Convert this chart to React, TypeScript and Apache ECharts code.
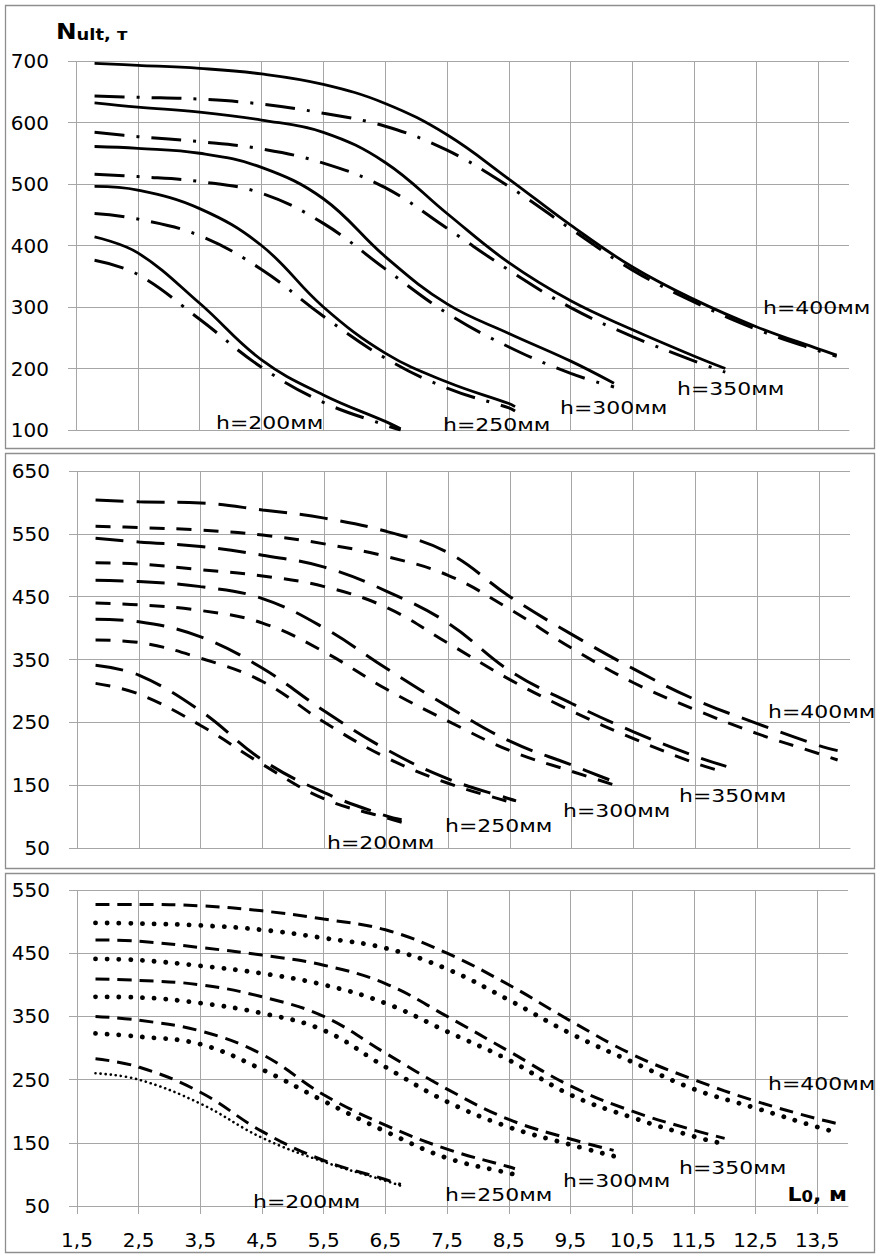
import React, { useEffect, useRef } from "react";
import * as echarts from "echarts";

// ---------- data ----------
const X_TICKS = [1.5, 2.5, 3.5, 4.5, 5.5, 6.5, 7.5, 8.5, 9.5, 10.5, 11.5, 12.5, 13.5];

const X_200 = [1.8, 2.5, 3.5, 4.5, 5.5, 6.5, 6.75];
const X_250 = [1.8, 2.5, 3.5, 4.5, 5.5, 6.5, 7.5, 8.5, 8.6];
const X_300 = [1.8, 2.5, 3.5, 4.5, 5.5, 6.5, 7.5, 8.5, 9.5, 10.2];
const X_350 = [1.8, 2.5, 3.5, 4.5, 5.5, 6.5, 7.5, 8.5, 9.5, 10.5, 11.5, 12.0];
const X_400 = [1.8, 2.5, 3.5, 4.5, 5.5, 6.5, 7.5, 8.5, 9.5, 10.5, 11.5, 12.5, 13.5, 13.8];

// panel 1: solid vs dash-dot
const P1_SOLID_400 = [696, 693, 688, 679, 662, 631, 580, 508, 433, 365, 312, 268, 232, 222];
const P1_DD_400 = [643, 641, 638, 630, 615, 594, 555, 496, 427, 360, 308, 264, 229, 220];
const P1_SOLID_350 = [632, 625, 617, 604, 584, 535, 452, 372, 310, 263, 220, 200];
const P1_DD_350 = [584, 577, 569, 557, 534, 494, 428, 360, 299, 252, 212, 194];
const P1_SOLID_300 = [561, 558, 550, 527, 476, 382, 305, 257, 212, 176];
const P1_DD_300 = [516, 512, 504, 485, 436, 362, 290, 235, 192, 170];
const P1_SOLID_250 = [496, 490, 460, 400, 300, 225, 178, 143, 138];
const P1_DD_250 = [452, 443, 416, 361, 285, 217, 168, 136, 131];
const P1_SOLID_200 = [414, 388, 306, 214, 157, 114, 102];
const P1_DD_200 = [376, 353, 280, 202, 145, 108, 100];

// panel 2: long dash vs short dash
const P2_LONG_400 = [604, 601, 599, 588, 575, 554, 520, 450, 390, 335, 286, 248, 213, 205];
const P2_SHORT_400 = [562, 560, 556, 548, 534, 514, 484, 430, 368, 313, 270, 232, 200, 190];
const P2_LONG_350 = [543, 537, 530, 516, 497, 459, 408, 332, 280, 235, 196, 180];
const P2_SHORT_350 = [504, 502, 493, 483, 466, 433, 376, 318, 268, 224, 185, 170];
const P2_LONG_300 = [476, 474, 466, 447, 400, 336, 275, 220, 182, 155];
const P2_SHORT_300 = [440, 437, 428, 408, 362, 303, 252, 205, 172, 150];
const P2_LONG_250 = [414, 410, 386, 336, 268, 207, 160, 128, 125];
const P2_SHORT_250 = [381, 377, 352, 315, 250, 194, 153, 123, 119];
const P2_LONG_200 = [341, 325, 268, 190, 138, 101, 95];
const P2_SHORT_200 = [312, 295, 245, 183, 128, 98, 91];

// panel 3: dashed vs dotted
const P3_DASH_400 = [527, 527, 525, 517, 504, 487, 450, 400, 343, 290, 250, 216, 188, 181];
const P3_DOT_400 = [498, 497, 494, 487, 474, 458, 425, 376, 323, 278, 235, 205, 175, 167];
const P3_DASH_350 = [471, 469, 459, 447, 431, 402, 350, 295, 240, 200, 170, 157];
const P3_DOT_350 = [441, 439, 430, 418, 400, 371, 326, 281, 226, 190, 160, 148];
const P3_DASH_300 = [409, 407, 400, 381, 350, 292, 235, 187, 156, 138];
const P3_DOT_300 = [381, 380, 371, 355, 328, 270, 215, 175, 147, 129];
const P3_DASH_250 = [350, 344, 327, 290, 226, 178, 140, 112, 109];
const P3_DOT_250 = [323, 318, 306, 266, 216, 168, 126, 102, 100];
const P3_DASH_200 = [283, 270, 230, 168, 122, 92, 84];
const P3_DOT_200 = [260, 250, 212, 158, 120, 90, 82];

const H_LABELS = ["h=200мм", "h=250мм", "h=300мм", "h=350мм", "h=400мм"];
const Y_TITLE = ["N", "ult, т"];
const X_TITLE = ["L", "0", ", м"];

// ---------- styles ----------
const FONT = "DejaVu Sans";
const GRID_COLOR = "#a6a6a6";
const BORDER_COLOR = "#8e8e8e";

const STYLE_SOLID = { width: 2.8, type: "solid" };
const STYLE_DASHDOT = { width: 3, type: [30, 12, 3, 12], cap: "butt" };
const STYLE_LONG = { width: 3, type: [28, 13], cap: "butt" };
const STYLE_SHORT = { width: 3, type: [15, 12], cap: "butt" };
const STYLE_DASH = { width: 3, type: [14, 8], cap: "butt" };
const STYLE_DOT = { width: 4.8, type: [0.1, 11.6], cap: "round" };
const STYLE_FINEDOT = { width: 2.6, type: [0.1, 5], cap: "round" };

function line(name: string, xs: number[], ys: number[], grid: number, st: any) {
  return {
    name,
    type: "line",
    xAxisIndex: grid,
    yAxisIndex: grid,
    data: xs.map((x, i) => [x, ys[i]]),
    symbol: "none",
    showSymbol: false,
    smooth: 0.4,
    silent: true,
    lineStyle: { color: "#000", width: st.width, type: st.type, cap: st.cap || "butt" },
    z: 5,
  };
}

function xAxisFor(i: number, showLabels: boolean) {
  return {
    type: "value",
    gridIndex: i,
    min: 1.5,
    max: 14,
    interval: 1,
    axisLine: { show: true, lineStyle: { color: GRID_COLOR, width: 1 } },
    axisTick: {
      show: showLabels,
      length: 8,
      customValues: X_TICKS,
      lineStyle: { color: GRID_COLOR, width: 1 },
    },
    axisLabel: {
      show: showLabels,
      customValues: X_TICKS,
      formatter: (v: number) => v.toFixed(1).replace(".", ","),
      fontFamily: FONT,
      fontSize: 20,
      color: "#000",
      margin: 24,
    },
    splitLine: { show: true, lineStyle: { color: GRID_COLOR, width: 1 } },
  };
}

function yAxisFor(i: number, min: number, max: number) {
  return {
    type: "value",
    gridIndex: i,
    min,
    max,
    interval: 100,
    axisLine: { show: false },
    axisTick: { show: true, length: 8, lineStyle: { color: GRID_COLOR, width: 1 } },
    axisLabel: { fontFamily: FONT, fontSize: 20, color: "#000", margin: 27 },
    splitLine: { show: true, lineStyle: { color: GRID_COLOR, width: 1 } },
  };
}

// label layout (pixel positions of the h= labels in each panel)
const LABEL_POS = [
  [[216, 423], [443, 425], [560, 408], [677, 389], [763, 308]],
  [[327, 843], [445, 826], [563, 811], [679, 796], [768, 712]],
  [[253, 1202], [445, 1195], [563, 1181], [679, 1168], [768, 1084]],
];

function buildOption() {
  const series = [
    line("p1s400", X_400, P1_SOLID_400, 0, STYLE_SOLID),
    line("p1d400", X_400, P1_DD_400, 0, STYLE_DASHDOT),
    line("p1s350", X_350, P1_SOLID_350, 0, STYLE_SOLID),
    line("p1d350", X_350, P1_DD_350, 0, STYLE_DASHDOT),
    line("p1s300", X_300, P1_SOLID_300, 0, STYLE_SOLID),
    line("p1d300", X_300, P1_DD_300, 0, STYLE_DASHDOT),
    line("p1s250", X_250, P1_SOLID_250, 0, STYLE_SOLID),
    line("p1d250", X_250, P1_DD_250, 0, STYLE_DASHDOT),
    line("p1s200", X_200, P1_SOLID_200, 0, STYLE_SOLID),
    line("p1d200", X_200, P1_DD_200, 0, STYLE_DASHDOT),

    line("p2l400", X_400, P2_LONG_400, 1, STYLE_LONG),
    line("p2s400", X_400, P2_SHORT_400, 1, STYLE_SHORT),
    line("p2l350", X_350, P2_LONG_350, 1, STYLE_LONG),
    line("p2s350", X_350, P2_SHORT_350, 1, STYLE_SHORT),
    line("p2l300", X_300, P2_LONG_300, 1, STYLE_LONG),
    line("p2s300", X_300, P2_SHORT_300, 1, STYLE_SHORT),
    line("p2l250", X_250, P2_LONG_250, 1, STYLE_LONG),
    line("p2s250", X_250, P2_SHORT_250, 1, STYLE_SHORT),
    line("p2l200", X_200, P2_LONG_200, 1, STYLE_LONG),
    line("p2s200", X_200, P2_SHORT_200, 1, STYLE_SHORT),

    line("p3a400", X_400, P3_DASH_400, 2, STYLE_DASH),
    line("p3o400", X_400, P3_DOT_400, 2, STYLE_DOT),
    line("p3a350", X_350, P3_DASH_350, 2, STYLE_DASH),
    line("p3o350", X_350, P3_DOT_350, 2, STYLE_DOT),
    line("p3a300", X_300, P3_DASH_300, 2, STYLE_DASH),
    line("p3o300", X_300, P3_DOT_300, 2, STYLE_DOT),
    line("p3a250", X_250, P3_DASH_250, 2, STYLE_DASH),
    line("p3o250", X_250, P3_DOT_250, 2, STYLE_DOT),
    line("p3a200", X_200, P3_DASH_200, 2, STYLE_DASH),
    line("p3o200", X_200, P3_DOT_200, 2, STYLE_FINEDOT),
  ];

  const graphics: any[] = [
    { type: "rect", shape: { x: 5.5, y: 5.5, width: 869, height: 443 }, style: { fill: "none", stroke: BORDER_COLOR, lineWidth: 1.3 }, z: 0 },
    { type: "rect", shape: { x: 5.5, y: 453.5, width: 869, height: 415 }, style: { fill: "none", stroke: BORDER_COLOR, lineWidth: 1.3 }, z: 0 },
    { type: "rect", shape: { x: 5.5, y: 873.5, width: 869, height: 379 }, style: { fill: "none", stroke: BORDER_COLOR, lineWidth: 1.3 }, z: 0 },
  ];

  LABEL_POS.forEach((panel) => {
    panel.forEach((p, k) => {
      graphics.push({
        type: "text",
        x: p[0],
        y: p[1],
        scaleX: 1.22,
        z: 10,
        style: {
          text: H_LABELS[k],
          font: `18px '${FONT}'`,
          fill: "#000",
          textAlign: "left",
          textVerticalAlign: "middle",
        },
      });
    });
  });

  graphics.push({
    type: "text",
    x: 56,
    y: 31,
    scaleX: 1.12,
    z: 10,
    style: {
      text: `{n|${Y_TITLE[0]}}{s|${Y_TITLE[1]}}`,
      rich: {
        n: { fontFamily: FONT, fontWeight: "bold", fontSize: 22, verticalAlign: "bottom", fill: "#000" },
        s: { fontFamily: FONT, fontWeight: "bold", fontSize: 16, verticalAlign: "bottom", fill: "#000" },
      },
      textAlign: "left",
      textVerticalAlign: "middle",
    },
  });

  graphics.push({
    type: "text",
    x: 847,
    y: 1194,
    scaleX: 1.1,
    z: 10,
    style: {
      text: `{a|${X_TITLE[0]}}{b|${X_TITLE[1]}}{a|${X_TITLE[2]}}`,
      rich: {
        a: { fontFamily: FONT, fontWeight: "bold", fontSize: 20, verticalAlign: "bottom", fill: "#000" },
        b: { fontFamily: FONT, fontWeight: "bold", fontSize: 15, verticalAlign: "bottom", fill: "#000" },
      },
      textAlign: "right",
      textVerticalAlign: "middle",
    },
  });

  return {
    animation: false,
    backgroundColor: "#fff",
    grid: [
      { left: 76, top: 61, width: 773, height: 369, outerBoundsMode: "none" },
      { left: 77, top: 471, width: 773, height: 377, outerBoundsMode: "none" },
      { left: 77, top: 890, width: 771, height: 316, outerBoundsMode: "none" },
    ],
    xAxis: [xAxisFor(0, false), xAxisFor(1, false), xAxisFor(2, true)],
    yAxis: [yAxisFor(0, 100, 700), yAxisFor(1, 50, 650), yAxisFor(2, 50, 550)],
    series,
    graphic: { elements: graphics },
  };
}

export default function App() {
  const ref = useRef<HTMLDivElement>(null);
  useEffect(() => {
    if (!ref.current) return;
    const chart = echarts.init(ref.current, null, { renderer: "svg" });
    chart.setOption(buildOption() as any);
    return () => chart.dispose();
  }, []);
  return (
    <div
      ref={ref}
      style={{ position: "fixed", left: 0, top: 0, width: 877, height: 1256, background: "#fff" }}
    />
  );
}
